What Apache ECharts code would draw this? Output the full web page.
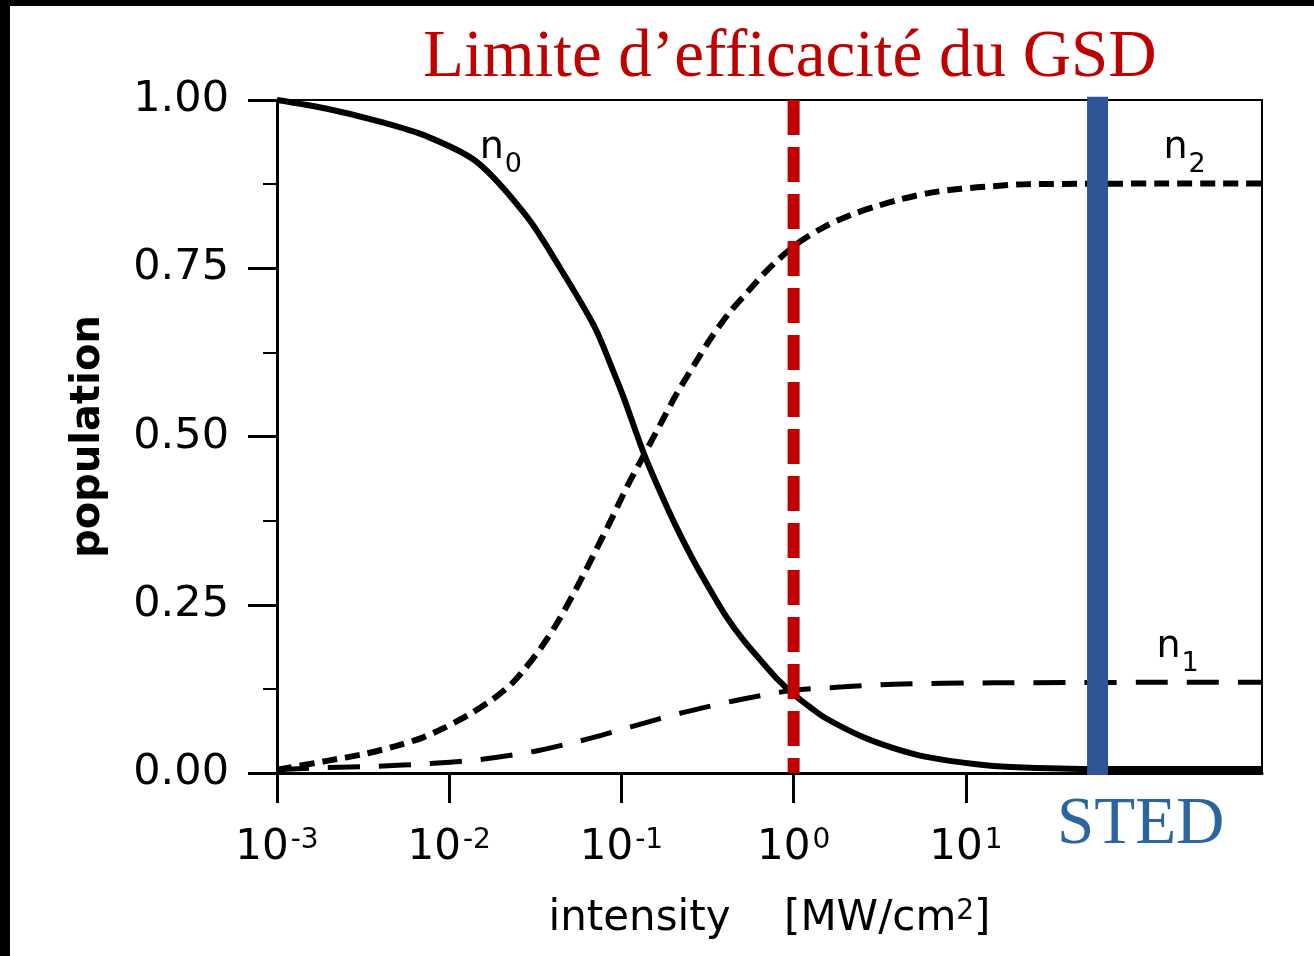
<!DOCTYPE html>
<html><head><meta charset="utf-8">
<script src="https://cdn.jsdelivr.net/npm/echarts@6/dist/echarts.min.js"></script>
<style>html,body{margin:0;padding:0;background:#fff}#c{width:1314px;height:956px}</style>
</head><body><div id="c"></div>
<script>
// x values are log10 of intensity [MW/cm2]
const n0Exp = [-3.00,-2.71,-2.42,-2.13,-1.84,-1.55,-1.36,-1.16,-1.06,-0.99,-0.87,-0.77,-0.68,-0.58,-0.48,-0.39,-0.29,-0.19,-0.10,0.00,0.10,0.19,0.39,0.58,0.77,1.06,1.26,1.78,2.72];
const n0Val = [1.000,0.987,0.969,0.946,0.908,0.827,0.752,0.665,0.605,0.560,0.475,0.415,0.365,0.315,0.270,0.232,0.197,0.167,0.141,0.117,0.097,0.081,0.055,0.037,0.024,0.013,0.009,0.006,0.006];
const n2Exp = [-3.00,-2.71,-2.48,-2.31,-2.15,-2.03,-1.89,-1.75,-1.64,-1.56,-1.47,-1.38,-1.26,-1.16,-1.06,-0.97,-0.87,-0.77,-0.68,-0.54,-0.47,-0.37,-0.27,-0.18,-0.08,0.04,0.19,0.34,0.48,0.63,0.79,0.97,1.16,1.37,2.72];
const n2Val = [0.005,0.018,0.029,0.040,0.053,0.067,0.086,0.109,0.132,0.155,0.185,0.220,0.275,0.325,0.376,0.424,0.472,0.520,0.563,0.622,0.650,0.685,0.714,0.740,0.765,0.790,0.813,0.830,0.842,0.853,0.862,0.868,0.872,0.875,0.876];
const n1Exp = [-3.00,-2.73,-2.42,-2.12,-1.82,-1.51,-1.30,-1.16,-0.94,-0.64,-0.35,-0.19,0.00,0.29,0.58,1.16,2.72];
const n1Val = [0.005,0.008,0.010,0.014,0.020,0.032,0.044,0.053,0.069,0.090,0.107,0.115,0.123,0.128,0.132,0.134,0.135];
const xTickExp = [-3,-2,-1,0,1];
const xMinExp = -3, xMaxExp = 2.72;
const yTicks = [0, 0.25, 0.5, 0.75, 1];
const gsdLimitExp = 0;      // 10^0 MW/cm2
const stedExp = 1.765;      // STED intensity
const titleText = 'Limite d\u2019efficacité du GSD';
const stedText = 'STED';
const labelPos = {n0:[-1.70,0.912], n1:[2.23,0.170], n2:[2.27,0.912]};

const zip = (a,b) => a.map((v,i)=>[v,b[i]]);
const chart = echarts.init(document.getElementById('c'));
const FONT = 'DejaVu Sans';
function subLabel(name){
  return {
    data:[{coord:labelPos[name]}],
    symbol:'circle', symbolSize:1, itemStyle:{color:'rgba(0,0,0,0)'},
    silent:true, animation:false,
    label:{show:true, position:'inside', formatter:'{n|n}{s|'+name.slice(1)+'}',
      rich:{
        n:{fontSize:38, fontFamily:FONT, color:'#000', verticalAlign:'bottom', lineHeight:38, padding:[0,1,11,0]},
        s:{fontSize:27, fontFamily:FONT, color:'#000', verticalAlign:'bottom', lineHeight:27}
      }}
  };
}
const option = {
  animation:false,
  backgroundColor:'#fff',
  graphic:[
    {type:'rect', shape:{x:0,y:0,width:1314,height:6}, style:{fill:'#000'}, z:100},
    {type:'rect', shape:{x:0,y:0,width:10,height:956}, style:{fill:'#000'}, z:100}
  ],
  title:[
    {text:titleText, left:423, top:25, padding:0,
     textStyle:{fontFamily:'Liberation Serif', fontSize:67, fontWeight:'normal', color:'#c00000'}},
    {text:stedText, left:1057, top:792, padding:0,
     textStyle:{fontFamily:'Liberation Serif', fontSize:67, fontWeight:'normal', color:'#2b659f'}}
  ],
  grid:{left:277, right:52, top:100, bottom:183, show:true, borderColor:'#000', borderWidth:2, containLabel:false},
  xAxis:{
    type:'value', min:xMinExp, max:xMaxExp,
    splitLine:{show:false},
    axisLine:{onZero:false, lineStyle:{color:'#000', width:3}},
    axisTick:{show:true, customValues:xTickExp, length:30, inside:false, lineStyle:{color:'#000', width:3}},
    axisLabel:{customValues:xTickExp, margin:54,
      formatter:v=>'{b|10}{s|'+(v<0?'-'+(-v):String(v))+'}',
      rich:{
        b:{fontSize:42, fontFamily:FONT, color:'#000', verticalAlign:'bottom', lineHeight:42},
        s:{fontSize:28, fontFamily:FONT, color:'#000', verticalAlign:'bottom', lineHeight:28, padding:[0,0,14,2]}
      }},
    name:'{m|intensity    [MW/cm}{s|2}{m|]}',
    nameLocation:'middle', nameGap:125,
    nameTextStyle:{rich:{
      m:{fontSize:42, fontFamily:FONT, color:'#000', verticalAlign:'bottom', lineHeight:42},
      s:{fontSize:28, fontFamily:FONT, color:'#000', verticalAlign:'bottom', lineHeight:28, padding:[0,0,14,0]}
    }}
  },
  yAxis:{
    type:'value', min:yTicks[0], max:yTicks[yTicks.length-1], interval:yTicks[1]-yTicks[0],
    splitLine:{show:false},
    axisLine:{show:true, onZero:false, lineStyle:{color:'#000', width:3}},
    axisTick:{show:true, length:29, inside:false, lineStyle:{color:'#000', width:3}},
    minorTick:{show:true, splitNumber:2, length:14, lineStyle:{color:'#000', width:2}},
    axisLabel:{margin:48, formatter:v=>v.toFixed(2), fontSize:43, fontFamily:FONT, color:'#000'},
    name:'population', nameLocation:'middle', nameGap:168,
    nameTextStyle:{fontSize:40, fontWeight:'bold', fontFamily:FONT, color:'#000'}
  },
  series:[
    {name:'n0', type:'line', data:zip(n0Exp,n0Val), symbol:'none', smooth:0.3,
     lineStyle:{color:'#000', width:6}, z:2, markPoint:subLabel('n0')},
    {name:'n2', type:'line', data:zip(n2Exp,n2Val), symbol:'none', smooth:0.3,
     lineStyle:{color:'#000', width:6, type:[15,8], cap:'butt'}, z:2, markPoint:subLabel('n2')},
    {name:'n1', type:'line', data:zip(n1Exp,n1Val), symbol:'none', smooth:0.3,
     lineStyle:{color:'#000', width:5, type:[32,19], cap:'butt'}, z:2, markPoint:subLabel('n1')},
    {name:'GSD', type:'line', data:[[gsdLimitExp,1],[gsdLimitExp,0]], symbol:'none', silent:true,
     lineStyle:{color:'#c00000', width:12, type:[35,12], cap:'butt'}, z:5},
    {name:'STED', type:'line', data:[[stedExp,1.005],[stedExp,-0.003]], symbol:'none', silent:true, clip:false,
     lineStyle:{color:'#2f5597', width:21, cap:'butt'}, z:6}
  ]
};
chart.setOption(option);
</script></body></html>
